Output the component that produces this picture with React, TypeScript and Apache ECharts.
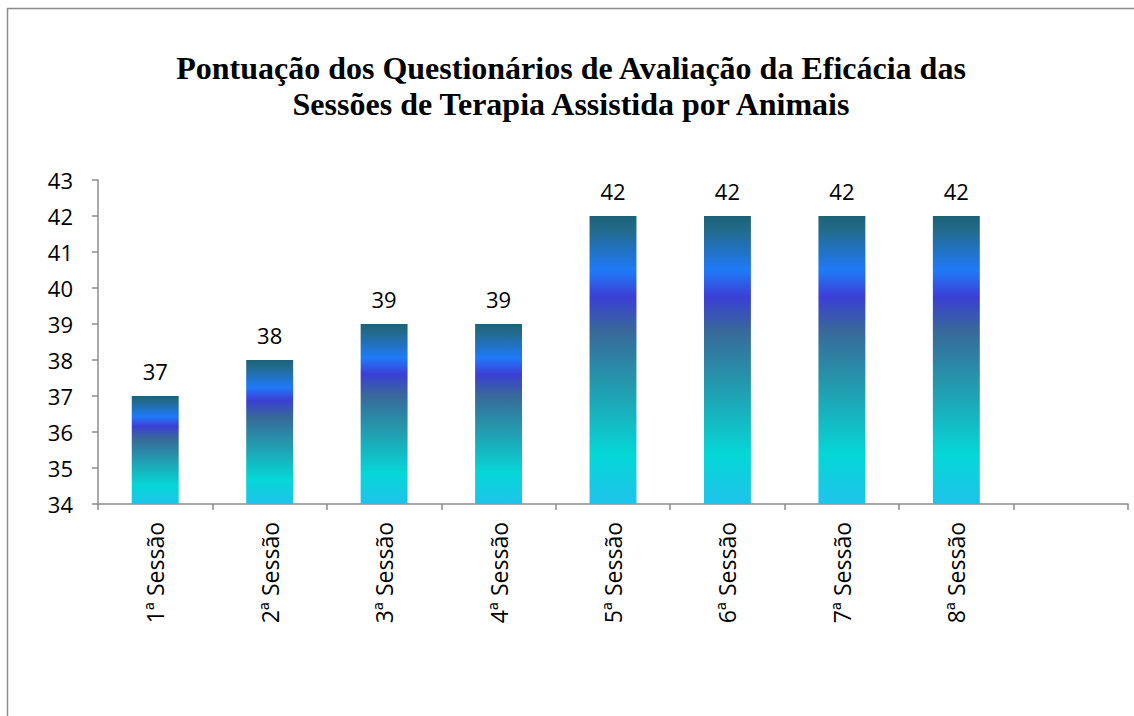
import React, { useEffect, useRef } from "react";
import * as echarts from "echarts";

const categories = ["1ª Sessão", "2ª Sessão", "3ª Sessão", "4ª Sessão", "5ª Sessão", "6ª Sessão", "7ª Sessão", "8ª Sessão", ""];
const scores = [37, 38, 39, 39, 42, 42, 42, 42, null];
const titleText = "Pontuação dos Questionários de Avaliação da Eficácia das\nSessões de Terapia Assistida por Animais";

export default function App() {
  const ref = useRef<HTMLDivElement>(null);
  useEffect(() => {
    document.body.style.margin = "0";
    const chart = echarts.init(ref.current!, null, { renderer: "svg" });
    const barColor = new echarts.graphic.LinearGradient(0, 0, 0, 1, [
      { offset: 0, color: "#1c6277" },
      { offset: 0.05, color: "#236b8c" },
      { offset: 0.19, color: "#1f7af8" },
      { offset: 0.28, color: "#3b3fd6" },
      { offset: 0.4, color: "#38699a" },
      { offset: 0.58, color: "#2598ad" },
      { offset: 0.83, color: "#05d7d7" },
      { offset: 1, color: "#1ec3ea" },
    ]);
    chart.setOption({
      animation: false,
      backgroundColor: "#ffffff",
      title: {
        text: titleText,
        left: 566,
        top: 45,
        textAlign: "center",
        textStyle: {
          fontFamily: "Liberation Serif",
          fontWeight: "bold",
          fontSize: 32,
          lineHeight: 36,
          color: "#000",
        },
      },
      graphic: [
        {
          type: "rect",
          shape: { x: 7.5, y: 8.5, width: 1160, height: 740 },
          style: { fill: "none", stroke: "#8c8c8c", lineWidth: 1.5 },
          silent: true,
        },
      ],
      grid: { left: 98, top: 180, right: 6, bottom: 212, containLabel: false },
      xAxis: {
        type: "category",
        data: categories,
        boundaryGap: true,
        axisLine: { lineStyle: { color: "#8c8c8c", width: 1.5 } },
        axisTick: { show: true, length: 6, interval: 0, lineStyle: { color: "#8c8c8c", width: 1.5 } },
        axisLabel: {
          rotate: 90,
          interval: 0,
          margin: 18,
          fontSize: 23,
          fontFamily: "Open Sans",
          color: "#000",
        },
      },
      yAxis: {
        type: "value",
        min: 34,
        max: 43,
        interval: 1,
        splitLine: { show: false },
        axisLine: { show: true, lineStyle: { color: "#8c8c8c", width: 1.5 } },
        axisTick: { show: true, length: 6, inside: false, lineStyle: { color: "#8c8c8c", width: 1.5 } },
        axisLabel: {
          margin: 25,
          fontSize: 22,
          fontFamily: "Open Sans",
          color: "#000",
        },
      },
      series: [
        {
          type: "bar",
          data: scores,
          barWidth: "41%",
          itemStyle: { color: barColor },
          label: {
            show: true,
            position: "top",
            distance: 14,
            fontSize: 22,
            fontFamily: "Open Sans",
            color: "#000",
          },
        },
      ],
    });
    return () => chart.dispose();
  }, []);
  return <div ref={ref} style={{ width: 1134, height: 716 }} />;
}
